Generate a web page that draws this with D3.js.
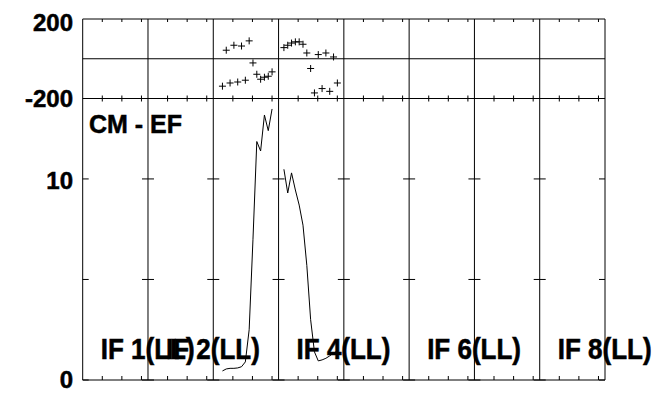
<!DOCTYPE html>
<html><head><meta charset="utf-8">
<script src="https://cdn.jsdelivr.net/npm/d3@7"></script>
<style>
html,body{margin:0;padding:0;background:#fff;}
svg{display:block;}
text{font-family:"Liberation Sans",Arial,sans-serif;font-weight:bold;fill:#000;stroke:#000;stroke-width:0.5px;}
</style></head>
<body>
<svg id="chart" width="656" height="393"></svg>
<script>
// ---- data ----
const ifNumbers = [1, 2, 3, 4, 5, 6, 7, 8];
const ifLabelNumbers = [1, 2, 4, 6, 8];
const polLabel = "LL";
const baselineLabel = "CM - EF";
const phaseTicks = [-200, 200];
const ampTicks = [0, 5, 10];
const ampTickLabels = [0, 10];
const chanTickFractions = [0.3, 0.6, 0.9];

// IF 3
const if3Chan  = [2, 3, 4, 5, 6, 7, 8, 9, 10, 11, 12, 13, 14, 15];
const if3Phase = [-138, 43, -122, 68, -117, 64, -108, 90, -21, -78, -103, -93, -88, -66];
const if3Amp   = [0.45, 0.55, 0.58, 0.58, 0.6, 0.66, 0.9, 2.5, 7.0, 11.86, 11.39, 13.18, 12.4, 13.48];
// IF 4
const if4Chan  = [1, 2, 3, 4, 5, 6, 7, 8, 9, 10, 11, 12, 13, 14, 15];
const if4Phase = [56, 68, 79, 85, 85, 73, 29, -49, -172, 21, -150, 29, -164, 9, -122];
const if4Amp   = [10.48, 9.3, 10.3, 9.45, 8.7, 7.7, 5.7, 3.0, 1.4, 0.95, 1.0, 1.08, 1.2, 1.34, 1.44];

const seriesList = [
  {ifn: 3, chan: if3Chan, phase: if3Phase, amp: if3Amp},
  {ifn: 4, chan: if4Chan, phase: if4Phase, amp: if4Amp}
];

// ---- layout ----
const svg = d3.select("#chart");
const left = 82.7, right = 605;
const phTop = 19, phBot = 98.5, ampBot = 380;

const xPanel = d3.scaleLinear().domain([0, ifNumbers.length]).range([left, right]);
const chanFrac = d3.scaleLinear().domain([-0.4, 16.7]).range([0, 1]);
const yPh = d3.scaleLinear().domain([-200, 200]).range([phBot, phTop]);
const yAmp = d3.scaleLinear().domain([0, 14]).range([ampBot, phBot]);

const g = svg.append("g");
const line = (x1,y1,x2,y2,w=1,c="#000") => g.append("line").attr("x1",x1).attr("y1",y1).attr("x2",x2).attr("y2",y2).attr("stroke",c).attr("stroke-width",w);

// frame
line(left, phTop, right, phTop);
line(left, yPh(0), right, yPh(0));
line(left, phBot, right, phBot);
line(left, ampBot, right, ampBot);
// separators
d3.range(ifNumbers.length + 1).forEach(i => {
  const x = xPanel(i);
  line(x, phTop, x, ampBot);
  ampTicks.forEach(t => {
    const y = yAmp(t);
    const x1 = i === 0 ? x : x - 6;
    const x2 = i === ifNumbers.length ? x : x + 6;
    line(x1, y, x2, y);
  });
});
// channel ticks
ifNumbers.forEach((n, i) => {
  chanTickFractions.forEach(f => {
    const x = xPanel(i + f);
    line(x, phTop, x, phTop + 3);
    line(x, phBot - 3, x, phBot + 3);
    line(x, ampBot - 4, x, ampBot);
  });
});

// y labels
const ylab = (txt, y) => g.append("text").attr("x", 73).attr("y", y).attr("text-anchor","end")
  .attr("dy","0.36em").attr("font-size", 24).text(txt);
phaseTicks.forEach(t => ylab(t, yPh(t) + (t > 0 ? 3 : 0)));
ampTickLabels.forEach(t => ylab(t, yAmp(t) + (t === 0 ? -1 : 1)));

// data
const px = (ifn, c) => xPanel(ifn - 1 + chanFrac(c));
seriesList.forEach(s => {
  const pts = s.chan.map((c, j) => ({x: px(s.ifn, c), ph: s.phase[j], amp: s.amp[j]}));
  g.append("path")
    .attr("d", d3.line().x(d => d.x).y(d => yAmp(d.amp))(pts))
    .attr("fill","none").attr("stroke","#000").attr("stroke-width",1);
  g.selectAll(null).data(pts).enter().append("path")
    .attr("transform", d => `translate(${d.x},${yPh(d.ph)})`)
    .attr("d","M-3.5,0H3.5M0,-3.5V3.5")
    .attr("stroke","#000").attr("stroke-width",1);
});

// labels
g.append("text").attr("x", 89).attr("y", 133).attr("font-size", 25).text(baselineLabel);
ifLabelNumbers.forEach(n => {
  g.append("text")
    .attr("transform", `translate(${xPanel(n - 1) + 18},359) scale(1,1.12)`)
    .attr("font-size", 26)
    .text(`IF ${n}(${polLabel})`);
});
</script>
</body></html>
